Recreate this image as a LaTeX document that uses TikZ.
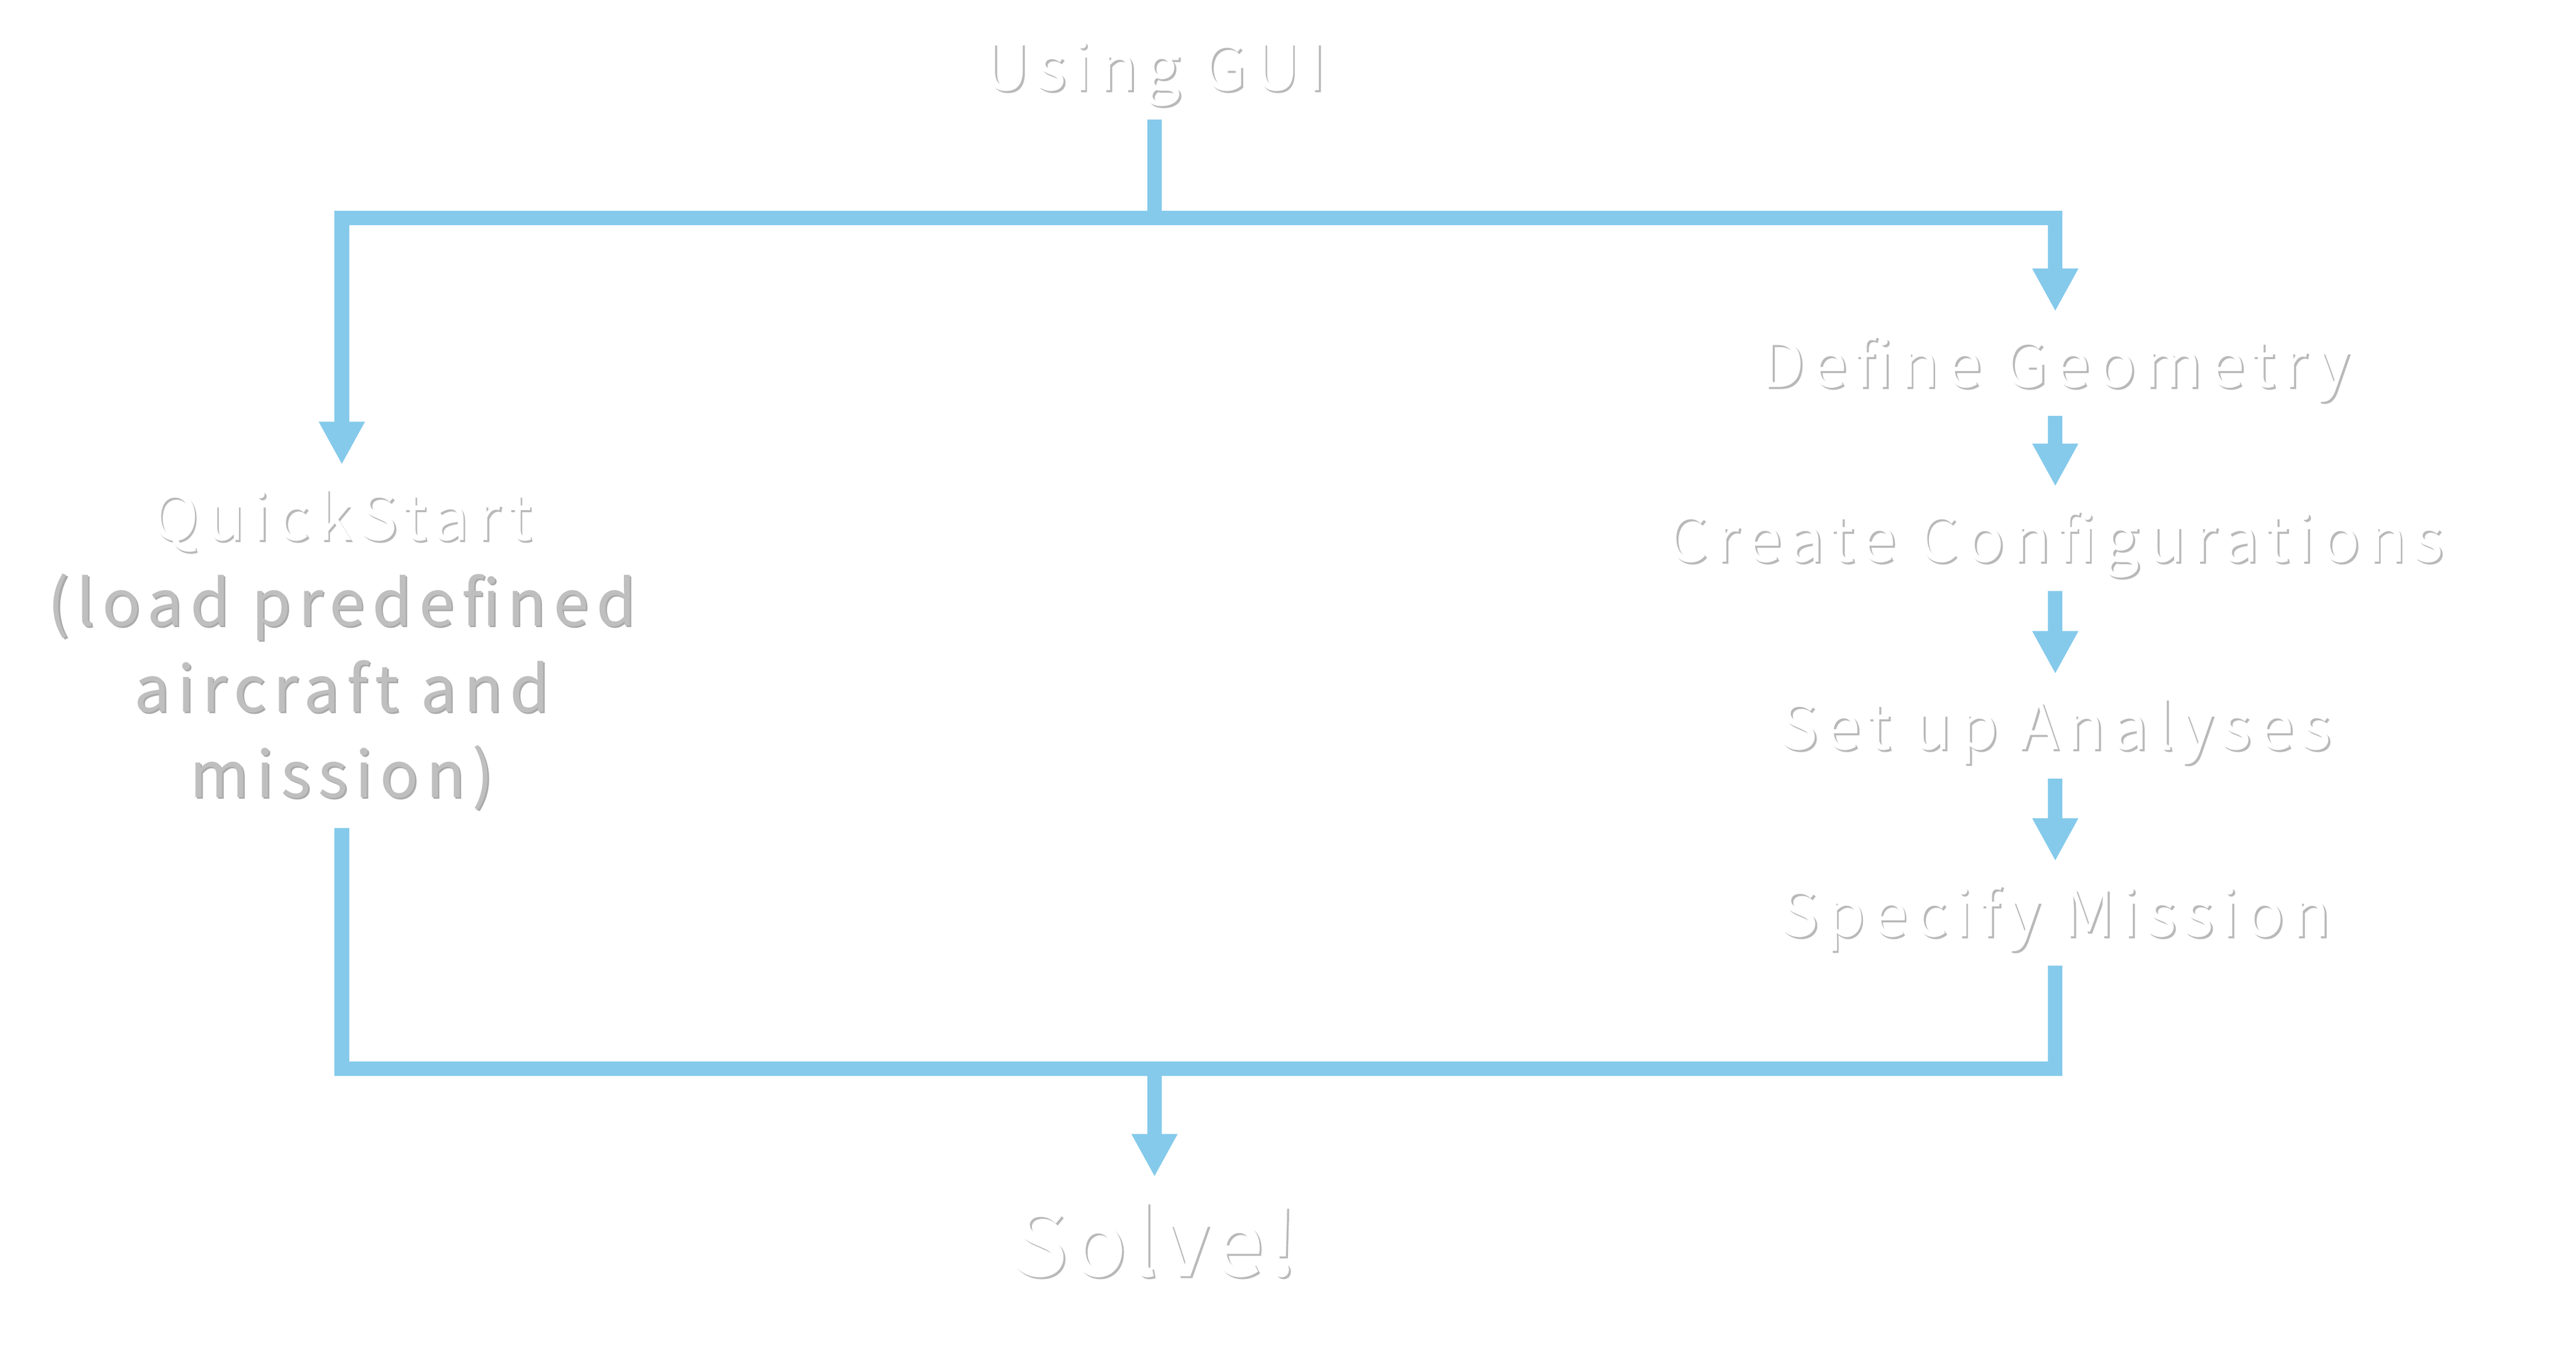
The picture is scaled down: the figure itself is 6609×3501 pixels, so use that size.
\documentclass[tikz,border=0pt]{standalone}
\usepackage{fontspec}
\usepackage{xcolor}
\usepackage{tikz}
\usetikzlibrary{arrows.meta}
\newfontfamily\guifont{Noto Sans CJK JP}[LetterSpace=11.5]
\newfontfamily\solvefont{Noto Sans CJK JP}[LetterSpace=6, FakeBold=3]
\definecolor{SkyLine}{HTML}{85CAEB}
\definecolor{SoftGray}{HTML}{BFBFBF}
\definecolor{ShadowGray}{HTML}{B9B9B9}
\definecolor{DeepShadow}{HTML}{AAAAAA}

\tikzset{
  steptext/.style={font=\guifont\fontsize{46.5}{62.6}\selectfont, text=white,
    inner sep=0pt, outer sep=0.74cm, text height=1.2cm, text depth=0pt, anchor=base},
  notetext/.style={font=\guifont\fontsize{46.5}{62.6}\selectfont, text=SoftGray,
    inner sep=0pt, outer sep=0.78cm, text depth=0pt, align=center, anchor=base},
  solvetext/.style={font=\solvefont\fontsize{65}{78}\selectfont, text=white,
    inner sep=0pt, outer sep=0.84cm, text height=1.67cm, text depth=0pt, anchor=base},
  link/.style={SkyLine, line width=0.37cm},
  tip/.style={-{Triangle[width=1.1cm, length=1.1cm]}}
}

% white label with a soft gray shadow
\newcommand{\embossed}[4][steptext]{%
  \node[#1, text=ShadowGray, xshift=0.05cm, yshift=-0.05cm] at (#3) {#4};
  \node[#1] (#2) at (#3) {#4};}

\begin{document}
\begin{tikzpicture}[x=0.01cm, y=-0.01cm]
      \fill[white] (0,0) rectangle (6609,3501);
      % labels
      \embossed{gui}{2962,232}{Using GUI}
      \embossed{quick}{877,1386}{QuickStart}
      \node[notetext, text=DeepShadow, xshift=0.04cm, yshift=-0.04cm] at (877,2046) {(load predefined\\aircraft and\\mission)};
      \node[notetext] (quicknote) at (877,2046) {(load predefined\\aircraft and\\mission)};
      \embossed{geom}{5273,993}{Define Geometry}
      \embossed{config}{5273,1442}{Create Configurations}
      \embossed{setup}{5273,1923}{Set up Analyses}
      \embossed{mission}{5273,2403}{Specify Mission}
      \embossed[solvetext]{solve}{2962,3270}{Solve!}
      % branch and merge points
      \coordinate (fork) at (2962,559);
      \coordinate (join) at (2962,2742);
      % connectors
      \draw[link,tip] (gui.south) -- (fork) -| (quick.north);
      \draw[link,tip] (fork) -| (geom.north);
      \draw[link,tip] (geom) -- (config);
      \draw[link,tip] (config) -- (setup);
      \draw[link,tip] (setup) -- (mission);
      \draw[link,tip] (quicknote.south) |- (join) -- (solve.north);
      \draw[link] (mission.south) |- (join);
    \end{tikzpicture}
\end{document}
